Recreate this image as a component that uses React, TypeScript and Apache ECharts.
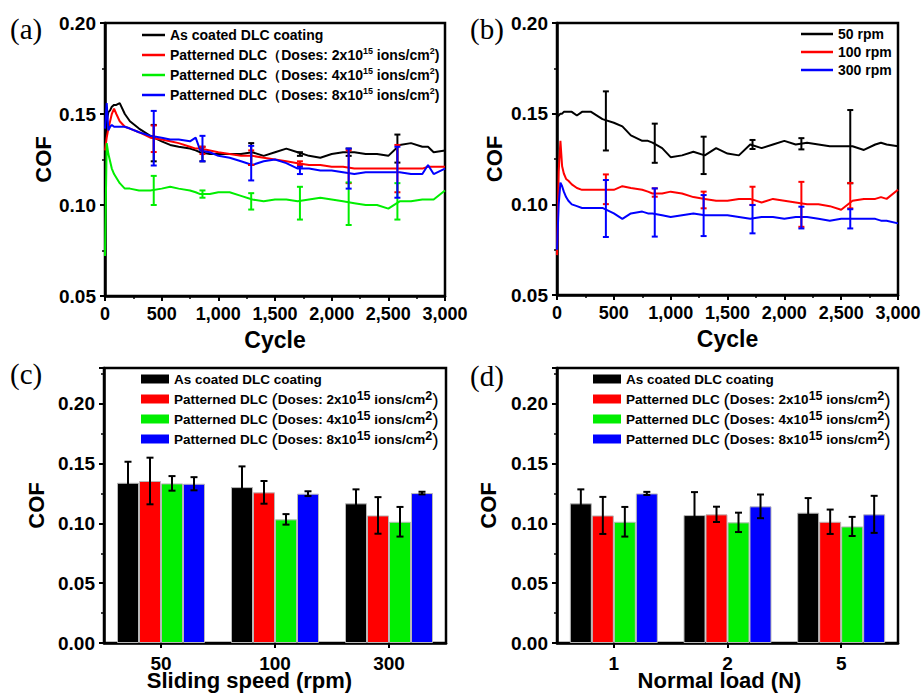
import React, { useEffect, useRef } from 'react';
import * as echarts from 'echarts';

// ---------------- data ----------------
const cycles = [0, 15, 30, 45, 60, 80, 100, 130, 175, 220, 300, 400, 500, 575, 650, 750, 800, 840, 925, 1000,
  1100, 1200, 1300, 1400, 1500, 1600, 1700, 1800, 1900, 2000, 2100, 2200, 2300, 2400, 2500, 2600, 2700, 2800,
  2850, 2900, 3000];

// panel (a): COF vs cycle for coatings
const coatedA = [0.125, 0.146, 0.151, 0.152, 0.154, 0.155, 0.155, 0.156, 0.150, 0.146,
  0.142, 0.138, 0.135, 0.133, 0.132, 0.131, 0.130, 0.129, 0.128, 0.128,
  0.128, 0.128, 0.129, 0.127, 0.129, 0.131, 0.129, 0.127, 0.126, 0.128, 0.129, 0.129, 0.128, 0.128, 0.127, 0.133, 0.134, 0.132,
  0.132, 0.129, 0.130];
const dose2A = [0.130, 0.137, 0.142, 0.146, 0.150, 0.153, 0.150, 0.146, 0.143, 0.142,
  0.140, 0.137, 0.136, 0.135, 0.134, 0.132, 0.131, 0.131, 0.130, 0.129,
  0.128, 0.127, 0.127, 0.126, 0.125, 0.124, 0.123, 0.122, 0.122, 0.121, 0.121, 0.120, 0.120, 0.120, 0.120, 0.120, 0.120, 0.120,
  0.121, 0.121, 0.121];
const dose4A = [0.072, 0.134, 0.128, 0.124, 0.120, 0.117, 0.115, 0.112, 0.109, 0.109,
  0.108, 0.108, 0.109, 0.110, 0.109, 0.108, 0.107, 0.106, 0.106, 0.107,
  0.107, 0.105, 0.103, 0.102, 0.103, 0.103, 0.102, 0.103, 0.104, 0.103, 0.102, 0.101, 0.100, 0.100, 0.098, 0.102, 0.102, 0.103,
  0.103, 0.103, 0.108];
const dose8A = [0.142, 0.156, 0.141, 0.143, 0.144, 0.143, 0.143, 0.143, 0.143, 0.142,
  0.140, 0.138, 0.137, 0.136, 0.136, 0.135, 0.137, 0.130, 0.129, 0.127,
  0.126, 0.124, 0.122, 0.124, 0.125, 0.123, 0.120, 0.120, 0.119, 0.119, 0.118, 0.117, 0.118, 0.118, 0.118, 0.118, 0.117, 0.117,
  0.122, 0.117, 0.120];

// panel (b): COF vs cycle for sliding speeds
const rpm50B = [0.148, 0.149, 0.150, 0.150, 0.151, 0.151, 0.151, 0.151, 0.149, 0.151,
  0.151, 0.147, 0.145, 0.143, 0.138, 0.135, 0.135, 0.134, 0.131, 0.126,
  0.127, 0.129, 0.127, 0.131, 0.128, 0.127, 0.133, 0.131, 0.133, 0.135, 0.133, 0.134, 0.133, 0.132, 0.132, 0.132, 0.130, 0.133,
  0.134, 0.133, 0.132];
const rpm100B = [0.072, 0.118, 0.135, 0.121, 0.117, 0.114, 0.113, 0.111, 0.109, 0.108,
  0.108, 0.108, 0.108, 0.110, 0.109, 0.108, 0.107, 0.106, 0.106, 0.107,
  0.106, 0.104, 0.103, 0.102, 0.102, 0.103, 0.103, 0.101, 0.103, 0.102, 0.101, 0.100, 0.100, 0.099, 0.097, 0.102, 0.103, 0.103,
  0.104, 0.103, 0.108];
const rpm300B = [0.075, 0.100, 0.112, 0.110, 0.107, 0.104, 0.102, 0.100, 0.099, 0.098,
  0.098, 0.098, 0.095, 0.092, 0.095, 0.096, 0.095, 0.095, 0.094, 0.093,
  0.094, 0.095, 0.094, 0.094, 0.094, 0.093, 0.092, 0.093, 0.093, 0.092, 0.093, 0.093, 0.092, 0.091, 0.092, 0.092, 0.092, 0.092,
  0.091, 0.091, 0.0895];

// error bars on the cycle curves
const errCycles = [430, 860, 1290, 1720, 2150, 2580];
const coatedAErrMean = [0.134, 0.128, 0.128, 0.128, 0.129, 0.131];
const coatedAErr = [0.010, 0.004, 0.006, 0.001, 0.002, 0.0077];
const dose2AErrMean = [0.1364, 0.130, 0.126, 0.123, 0.121, 0.120];
const dose2AErr = [0.0073, 0.002, 0.004, 0.001, 0.009, 0.013];
const dose4AErrMean = [0.108, 0.106, 0.102, 0.101, 0.1007, 0.102];
const dose4AErr = [0.008, 0.002, 0.0045, 0.009, 0.0117, 0.010];
const dose8AErrMean = [0.1367, 0.131, 0.123, 0.119, 0.120, 0.118];
const dose8AErr = [0.015, 0.007, 0.0095, 0.002, 0.011, 0.014];

const rpm50ErrMean = [0.146, 0.1337, 0.127, 0.133, 0.1334, 0.1318];
const rpm50Err = [0.0163, 0.0108, 0.0103, 0.0025, 0.0031, 0.0202];
const rpm100ErrMean = [0.1083, 0.1065, 0.1024, 0.1047, 0.100, 0.1048];
const rpm100Err = [0.0082, 0.0023, 0.0046, 0.005, 0.0124, 0.007];
const rpm300ErrMean = [0.0977, 0.0955, 0.0938, 0.0918, 0.0927, 0.092];
const rpm300Err = [0.0157, 0.0133, 0.0113, 0.0078, 0.006, 0.0053];

// panel (c): COF vs sliding speed
const speeds = ['50', '100', '300'];
const coatedC = [0.134, 0.1304, 0.1168];
const coatedCErr = [0.0176, 0.0173, 0.0117];
const dose2C = [0.1355, 0.126, 0.1067];
const dose2CErr = [0.0195, 0.0095, 0.0153];
const dose4C = [0.1335, 0.1034, 0.1014];
const dose4CErr = [0.0061, 0.0044, 0.0124];
const dose8C = [0.1332, 0.1249, 0.1254];
const dose8CErr = [0.0055, 0.002, 0.0011];

// panel (d): COF vs normal load
const loads = ['1', '2', '5'];
const coatedD = [0.1168, 0.107, 0.109];
const coatedDErr = [0.0117, 0.0192, 0.0122];
const dose2D = [0.1067, 0.1076, 0.1014];
const dose2DErr = [0.0155, 0.0064, 0.0102];
const dose4D = [0.1014, 0.1009, 0.0975];
const dose4DErr = [0.0124, 0.0081, 0.008];
const dose8D = [0.1251, 0.1143, 0.1076];
const dose8DErr = [0.0013, 0.0099, 0.0155];

const namesLine = ['As coated DLC coating', 'Patterned DLC（Doses: 2x10^15 ions/cm^2)',
  'Patterned DLC（Doses: 4x10^15 ions/cm^2)', 'Patterned DLC（Doses: 8x10^15 ions/cm^2)'];
const namesBar = ['As coated DLC coating', 'Patterned DLC (Doses: 2x10^15 ions/cm^2)',
  'Patterned DLC (Doses: 4x10^15 ions/cm^2)', 'Patterned DLC (Doses: 8x10^15 ions/cm^2)'];
const namesSpeed = ['50 rpm', '100 rpm', '300 rpm'];

// ---------------- styling ----------------
const FONT = '"Liberation Sans", Arial, Helvetica, sans-serif';
const SERIF = '"Liberation Serif", "Times New Roman", serif';
const BLACK = '#000000';
const RED = '#ff0000';
const GREEN = '#00ee00';
const BLUE = '#0000ff';

function withCommas(v: number) {
  return String(Math.round(v)).replace(/\B(?=(\d{3})+(?!\d))/g, ',');
}

function errorBars(xs: any[], means: number[], sds: number[], color: string, offset: number, capHalf: number) {
  return {
    type: 'custom',
    silent: true,
    z: 5,
    encode: { x: 0, y: 1 },
    data: xs.map((x, i) => [x, means[i], sds[i]]),
    renderItem: (_params: any, api: any) => {
      const x = api.value(0);
      const m = api.value(1);
      const e = api.value(2);
      const top = api.coord([x, m + e]);
      const bot = api.coord([x, m - e]);
      const cx = top[0] + offset;
      const style = { stroke: color, lineWidth: 2 };
      return {
        type: 'group',
        children: [
          { type: 'line', shape: { x1: cx, y1: top[1], x2: cx, y2: bot[1] }, style },
          { type: 'line', shape: { x1: cx - capHalf, y1: top[1], x2: cx + capHalf, y2: top[1] }, style },
          { type: 'line', shape: { x1: cx - capHalf, y1: bot[1], x2: cx + capHalf, y2: bot[1] }, style },
        ],
      };
    },
  };
}

const axisLine = { show: true, onZero: false, lineStyle: { color: '#000', width: 2.5 } };
const axisTick = { show: true, inside: false, length: 5, lineStyle: { color: '#000', width: 2 } };
const minorTick = { show: true, splitNumber: 2, length: 3, lineStyle: { color: '#000', width: 1.5 } };
const nameStyle = (size: number, extra: any = {}) => ({ color: '#000', fontSize: size, fontWeight: 'bold', fontFamily: FONT, ...extra });
const labelStyle = (size: number, margin: number, formatter: any, extra: any = {}) => ({
  color: '#000', fontSize: size, fontWeight: 'bold', fontFamily: FONT, margin, formatter, ...extra,
});
const gridBase = { show: true, borderColor: '#000', borderWidth: 2.5, backgroundColor: 'transparent', containLabel: false, outerBoundsMode: 'none' };

function panelLabel(text: string, left: number, top: number) {
  return { type: 'text', left, top, style: { text, fontSize: 29, fontFamily: SERIF, fill: '#000' } };
}

function lineSeries(name: string, ys: number[], color: string) {
  return {
    type: 'line', name, symbol: 'none', z: 2,
    data: cycles.map((c, i) => [c, ys[i]]),
    lineStyle: { color, width: 2 },
    itemStyle: { color },
  };
}

function lineOption(grid: any, yNameGap: number, legend: any, label: any, series: any[]) {
  return {
    animation: false,
    grid: { ...grid, ...gridBase },
    xAxis: {
      type: 'value', min: 0, max: 3000, interval: 500,
      name: 'Cycle', nameLocation: 'middle', nameGap: 32, nameMoveOverlap: false, nameTextStyle: nameStyle(23),
      axisLine, axisTick, minorTick, splitLine: { show: false },
      axisLabel: labelStyle(18, 9, withCommas),
    },
    yAxis: {
      type: 'value', min: 0.05, max: 0.2, interval: 0.05,
      name: 'COF', nameLocation: 'middle', nameGap: yNameGap, nameMoveOverlap: false, nameTextStyle: nameStyle(22),
      axisLine, axisTick, minorTick, splitLine: { show: false },
      axisLabel: labelStyle(19, 9, (v: number) => v.toFixed(2)),
    },
    legend,
    graphic: [label],
    series,
  };
}

function barOption(grid: any, cats: string[], xName: string, xNamePad: number, yNameGap: number, legendLeft: number,
  label: any, vals: number[][], errs: number[][]) {
  const colors = [BLACK, RED, GREEN, BLUE];
  const barW = 22;
  const bars = vals.map((v, s) => ({
    type: 'bar', name: namesBar[s], data: v, barWidth: barW, barGap: '0%',
    itemStyle: { color: colors[s], borderColor: '#b8b8b8', borderWidth: 1 },
  }));
  const ebars = vals.map((v, s) => errorBars(cats.map((_, i) => i), v, errs[s], BLACK, (s - 1.5) * barW, 3.5));
  return {
    animation: false,
    grid: { ...grid, ...gridBase },
    xAxis: {
      type: 'category', data: cats,
      name: xName, nameLocation: 'middle', nameGap: 28.5, nameMoveOverlap: false,
      nameTextStyle: nameStyle(22, { lineHeight: 18, padding: [0, xNamePad, 0, 0] }),
      axisLine, axisTick: { ...axisTick, alignWithLabel: true }, splitLine: { show: false },
      axisLabel: labelStyle(19, 13, undefined, { lineHeight: 15 }),
    },
    yAxis: {
      type: 'value', min: 0, max: 0.23, interval: 0.05,
      name: 'COF', nameLocation: 'middle', nameGap: yNameGap, nameMoveOverlap: false, nameTextStyle: nameStyle(22),
      axisLine, axisTick, minorTick, splitLine: { show: false },
      axisLabel: { ...labelStyle(19, 9, (v: number) => v.toFixed(2)), showMaxLabel: false },
    },
    legend: {
      orient: 'vertical', left: legendLeft, top: 29, align: 'left', padding: 0,
      icon: 'rect', itemWidth: 28, itemHeight: 9, itemGap: 0,
      itemStyle: { borderWidth: 0 },
      data: namesBar,
      formatter: (n: string) => n.replace(/\^(\d+)/g, '{sup|$1}').replace(/\(/g, '{p|(}').replace(/\)/g, '{p|)}'),
      textStyle: {
        color: '#000', fontSize: 13.5, fontWeight: 'bold', fontFamily: FONT, lineHeight: 20,
        rich: {
          sup: { fontSize: 12.5, fontWeight: 'bold', fontFamily: FONT, color: '#000', verticalAlign: 'top', lineHeight: 8 },
          p: { fontSize: 19, fontWeight: 'normal', fontFamily: FONT, color: '#000', lineHeight: 20 },
        },
      },
    },
    graphic: [label],
    series: [...bars, ...ebars],
  };
}

const supRich = {
  sup: { fontSize: 9, fontWeight: 'bold', fontFamily: FONT, color: '#000', verticalAlign: 'top', lineHeight: 10 },
};

const optionA = lineOption(
  { left: 105, top: 23, width: 340, height: 273 }, 51,
  {
    orient: 'vertical', left: 142, top: 26, align: 'left', padding: 0, icon: 'rect', itemWidth: 23, itemHeight: 2.5, itemGap: 2,
    data: namesLine,
    formatter: (n: string) => n.replace(/\^(\d+)/g, '{sup|$1}'),
    textStyle: { color: '#000', fontSize: 14, fontWeight: 'bold', fontFamily: FONT, lineHeight: 18, rich: supRich },
  },
  panelLabel('(a)', 10, 14),
  [
    lineSeries(namesLine[0], coatedA, BLACK),
    lineSeries(namesLine[1], dose2A, RED),
    lineSeries(namesLine[2], dose4A, GREEN),
    lineSeries(namesLine[3], dose8A, BLUE),
    errorBars(errCycles, coatedAErrMean, coatedAErr, BLACK, 0, 3),
    errorBars(errCycles, dose2AErrMean, dose2AErr, RED, 0, 3),
    errorBars(errCycles, dose4AErrMean, dose4AErr, GREEN, 0, 3),
    errorBars(errCycles, dose8AErrMean, dose8AErr, BLUE, 0, 3),
  ],
);

const optionB = lineOption(
  { left: 97, top: 23, width: 341, height: 272 }, 52,
  {
    orient: 'vertical', left: 341, top: 25, align: 'left', padding: 0, icon: 'rect', itemWidth: 32, itemHeight: 2.5, itemGap: 0,
    data: namesSpeed,
    textStyle: { color: '#000', fontSize: 14, fontWeight: 'bold', fontFamily: FONT, lineHeight: 18 },
  },
  panelLabel('(b)', 10, 14),
  [
    lineSeries(namesSpeed[0], rpm50B, BLACK),
    lineSeries(namesSpeed[1], rpm100B, RED),
    lineSeries(namesSpeed[2], rpm300B, BLUE),
    errorBars(errCycles, rpm50ErrMean, rpm50Err, BLACK, 0, 3),
    errorBars(errCycles, rpm100ErrMean, rpm100Err, RED, 0, 3),
    errorBars(errCycles, rpm300ErrMean, rpm300Err, BLUE, 0, 3),
  ],
);

const optionC = barOption(
  { left: 104, top: 28, width: 342, height: 275 }, speeds, 'Sliding speed (rpm)', 51, 57, 141,
  panelLabel('(c)', 10, 19),
  [coatedC, dose2C, dose4C, dose8C], [coatedCErr, dose2CErr, dose4CErr, dose8CErr],
);

const optionD = barOption(
  { left: 97, top: 28, width: 341, height: 275 }, loads, 'Normal load (N)', 16, 58, 133,
  panelLabel('(d)', 10, 21),
  [coatedD, dose2D, dose4D, dose8D], [coatedDErr, dose2DErr, dose4DErr, dose8DErr],
);

function EChart({ option, box }: { option: any; box: { left: number; top: number; width: number; height: number } }) {
  const ref = useRef<HTMLDivElement>(null);
  useEffect(() => {
    const chart = echarts.init(ref.current as HTMLDivElement, null, { renderer: 'svg' });
    chart.setOption(option);
    return () => chart.dispose();
  }, [option]);
  return <div ref={ref} style={{ position: 'absolute', ...box }} />;
}

export default function App() {
  return (
    <div style={{ position: 'fixed', left: 0, top: 0, width: 921, height: 693, background: '#fff', overflow: 'hidden' }}>
      <EChart option={optionA} box={{ left: 0, top: 0, width: 490, height: 360 }} />
      <EChart option={optionB} box={{ left: 460, top: 0, width: 461, height: 360 }} />
      <EChart option={optionC} box={{ left: 0, top: 340, width: 460, height: 353 }} />
      <EChart option={optionD} box={{ left: 460, top: 340, width: 461, height: 353 }} />
    </div>
  );
}
